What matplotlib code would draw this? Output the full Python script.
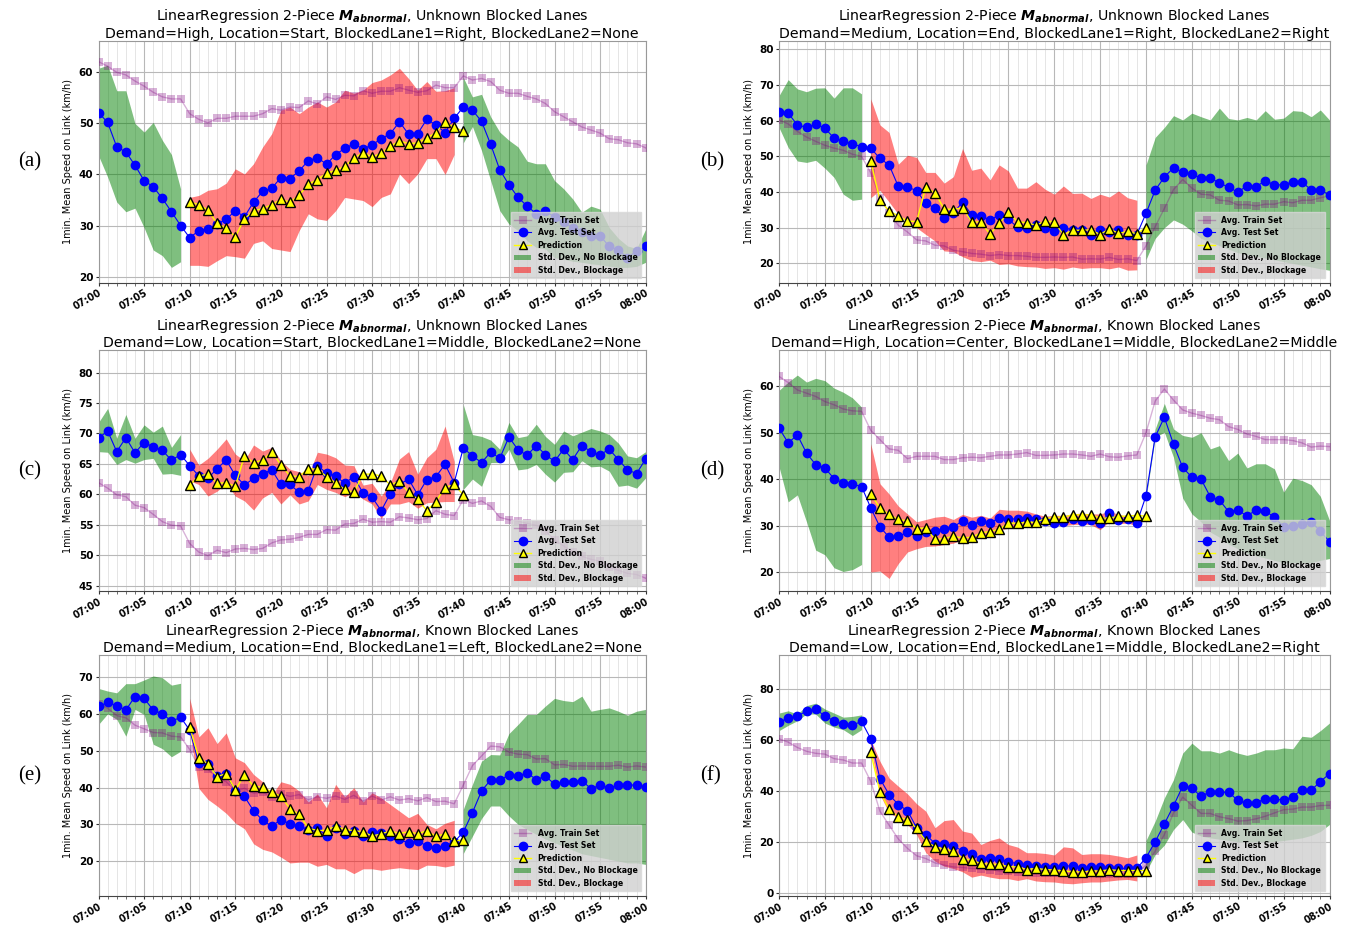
import matplotlib
matplotlib.use("Agg")
import matplotlib.pyplot as plt
from matplotlib.ticker import MultipleLocator, FixedLocator
from matplotlib.lines import Line2D
from matplotlib.patches import Patch
import numpy as np

minutes = list(range(61))
tick_minutes = list(range(0, 61, 5))
tick_labels = ['07:00', '07:05', '07:10', '07:15', '07:20', '07:25', '07:30',
               '07:35', '07:40', '07:45', '07:50', '07:55', '08:00']

# ---------------- panel (a) ----------------
a_train = [62.1,61.2,60.0,59.5,58.3,57.3,56.1,55.2,54.8,54.8,
           51.9,50.8,50.1,51.0,51.0,51.4,51.4,51.4,51.9,52.9,
           52.6,53.2,53.1,54.4,53.8,55.2,54.7,55.5,55.4,56.4,
           55.9,56.3,56.3,57.0,56.5,56.1,56.4,57.5,57.0,57.0,
           59.3,58.5,58.8,58.2,56.5,55.9,55.9,55.3,54.8,53.9,
           52.3,51.3,50.3,49.3,48.7,48.1,47.0,46.8,46.2,46.0,45.2]
a_test = [52.1,50.2,45.4,44.4,41.8,38.8,37.6,35.3,32.7,30.0,
          27.6,29.0,29.4,30.3,31.2,32.9,31.7,34.6,36.7,37.3,
          39.4,39.2,40.7,42.7,43.3,42.0,43.9,45.1,46.0,45.0,
          45.8,47.0,48.0,50.3,47.9,48.0,50.8,49.7,48.2,51.0,
          53.2,52.6,50.4,45.9,40.9,38.0,35.5,33.8,32.3,32.9,
          31.6,30.6,29.6,28.7,28.0,28.0,25.9,25.2,23.7,25.0,25.9]
a_pred = [34.6,34.1,33.0,30.4,29.5,27.8,31.3,32.9,33.3,34.1,
          35.1,34.6,35.9,38.1,39.0,40.2,40.8,41.6,43.2,44.3,
          43.4,44.2,45.5,46.6,46.0,46.2,47.1,48.2,50.3,49.2,48.5]
a_hi = [60.8,61.4,56.4,56.4,50.0,48.3,50.2,46.7,43.9,37.2,
        35.5,35.9,36.9,37.2,38.3,41.1,40.1,42.1,45.4,48.0,
        52.6,53.2,51.9,53.2,54.2,53.2,54.2,56.5,55.9,56.5,
        58.0,58.5,59.5,60.8,58.8,56.5,58.2,56.3,56.4,57.0,
        59.0,55.2,55.7,51.3,48.3,46.7,45.4,42.6,42.1,42.1,
        38.8,37.2,35.2,32.6,33.8,33.2,29.6,27.5,26.0,25.5,29.3]
a_lo = [43.7,39.5,34.6,32.7,33.4,29.6,25.2,24.1,21.8,22.9,
        22.2,22.2,22.0,23.1,24.1,23.9,23.6,26.5,27.0,25.5,
        25.2,24.9,29.0,32.3,31.3,31.0,32.9,35.5,35.2,34.9,
        33.7,35.5,36.2,40.1,38.2,40.1,43.1,43.1,40.0,43.9,
        46.2,49.4,44.7,38.8,32.9,30.3,29.0,27.0,25.7,25.4,
        23.7,23.4,23.0,22.8,22.5,22.3,22.0,21.8,21.8,22.0,22.8]

# ---------------- panel (b) ----------------
b_train = [60.2,59.1,57.0,55.4,54.2,53.1,52.3,51.7,50.6,50.0,
           45.4,38.4,34.2,30.7,28.8,26.6,26.3,25.1,24.9,23.7,
           23.3,22.8,22.6,22.2,22.5,22.2,22.2,22.0,21.7,21.7,
           21.8,21.7,21.8,21.2,21.3,21.2,21.7,21.1,21.3,20.8,
           24.9,30.3,35.4,40.7,43.5,41.1,39.4,39.2,37.7,37.5,
           36.4,36.5,36.1,36.6,36.6,37.3,37.0,37.7,37.7,38.4,38.9]
b_test = [62.3,62.1,58.8,58.1,59.0,57.9,55.1,54.2,53.5,52.7,
          52.3,49.4,47.6,41.6,41.5,40.3,36.9,35.5,32.6,34.0,
          37.2,33.6,33.3,32.2,33.6,32.4,30.1,29.8,30.7,30.0,
          29.1,30.0,29.4,29.3,28.1,29.4,28.7,29.4,28.1,28.1,
          34.0,40.5,44.2,46.8,45.6,45.0,43.9,43.9,42.6,41.3,
          40.0,41.7,41.5,43.2,42.0,42.0,42.9,42.8,40.6,40.6,39.1]
b_pred = [48.7,37.7,34.7,33.3,31.9,31.7,41.4,39.7,35.3,35.1,
          35.6,31.6,31.6,28.2,31.2,34.3,31.7,31.4,30.7,31.8,
          31.7,28.0,29.3,29.3,29.4,28.1,29.7,28.4,29.0,28.3,30.0]
b_hi = [67.0,71.5,68.9,68.1,69.1,69.2,66.3,69.2,69.2,67.5,
        66.1,58.8,56.7,47.8,50.3,49.7,45.5,45.5,42.5,44.3,
        52.2,46.1,46.7,43.4,47.6,45.9,41.1,41.1,42.9,40.8,
        39.4,41.7,39.6,39.7,38.2,39.4,38.6,40.3,38.4,37.7,
        47.6,55.3,58.1,61.4,60.2,62.1,61.1,60.2,63.5,60.6,
        60.2,60.9,60.2,62.8,60.4,60.7,62.8,62.6,61.1,63.0,60.2]
b_lo = [58.1,52.5,48.7,48.3,48.9,46.7,44.1,39.4,37.7,38.0,
        38.4,40.5,37.2,33.8,31.9,30.0,28.1,26.3,23.5,23.3,
        21.9,20.8,20.5,20.9,19.7,19.9,19.3,19.1,19.0,18.6,
        18.8,18.4,19.0,18.6,18.8,18.8,18.5,19.0,18.1,18.2,
        21.1,27.0,30.0,32.2,31.0,29.1,27.0,26.0,25.0,24.0,
        23.0,22.5,22.0,21.5,21.0,20.5,20.0,19.5,19.0,18.5,18.1]

# ---------------- panel (c) ----------------
c_train = [61.9,61.0,59.9,59.6,58.2,57.8,56.7,55.5,54.9,54.8,
           51.9,50.5,49.9,50.8,50.4,51.0,51.1,50.9,51.1,52.0,
           52.5,52.6,52.9,53.4,53.4,54.2,54.1,55.1,55.2,55.9,
           55.4,55.5,55.4,56.3,56.1,55.8,56.0,57.3,56.7,56.5,
           59.1,58.5,58.9,58.0,56.2,55.8,55.6,55.2,54.9,54.0,
           52.5,51.5,50.5,49.8,49.3,49.0,48.0,47.5,47.0,46.8,46.2]
c_test = [69.2,70.4,67.0,69.3,66.8,68.5,67.8,67.2,65.6,66.5,
          64.7,63.0,62.6,64.2,65.6,63.1,61.5,62.6,63.4,64.0,
          61.6,61.6,60.3,60.6,64.7,63.5,63.0,61.8,62.9,60.2,
          59.5,57.3,60.1,61.6,62.5,59.9,62.4,62.9,64.9,61.9,
          67.6,66.3,65.2,66.9,65.9,69.4,67.3,66.4,68.0,66.5,
          65.4,67.4,65.7,68.0,67.0,66.5,67.4,65.7,64.0,63.4,65.8]
c_pred = [61.5,63.0,63.3,61.8,61.9,61.3,66.3,65.2,65.6,67.0,
          64.8,63.0,62.9,64.2,64.1,62.9,61.8,60.8,60.3,63.3,
          63.3,63.0,61.5,62.2,60.3,59.2,57.3,58.8,61.1,61.6,59.9]
c_hi = [71.8,74.1,69.2,73.1,69.2,71.4,70.2,71.2,67.7,69.8,
        67.4,64.8,65.9,67.4,69.1,66.6,65.5,68.1,67.1,67.7,
        65.5,64.1,63.7,63.1,66.9,66.6,66.0,64.8,64.7,61.5,
        61.8,59.7,61.9,65.8,67.0,63.3,66.0,67.4,71.2,65.4,
        74.7,69.8,69.5,68.9,67.4,71.8,69.3,69.6,71.5,69.5,
        68.2,70.4,69.6,70.2,70.8,70.4,69.8,68.4,66.3,66.0,67.0]
c_lo = [67.0,66.9,64.9,65.7,65.1,65.7,65.9,63.3,63.4,63.1,
        62.2,61.6,59.7,60.5,61.8,59.7,58.9,57.4,59.4,60.3,
        58.4,59.9,58.4,58.9,61.6,60.8,60.3,59.6,60.3,59.2,
        58.4,56.0,58.4,58.4,58.8,57.7,58.6,58.7,58.8,58.8,
        60.8,62.5,61.3,65.2,65.2,67.4,64.0,64.2,64.9,63.3,
        62.0,63.6,63.7,65.5,64.5,64.6,63.8,61.3,61.5,61.0,62.7]

# ---------------- panel (d) ----------------
d_train = [62.1,60.8,59.2,58.5,57.8,56.7,56.0,55.1,54.7,54.6,
           50.5,48.5,46.5,46.2,44.4,44.9,44.9,44.9,44.2,44.2,
           44.6,44.7,44.6,44.9,45.2,45.2,45.4,45.7,45.1,45.1,
           45.2,45.4,45.4,45.2,44.9,45.4,44.8,44.7,45.0,45.2,
           50.0,56.8,59.4,57.0,54.9,54.2,53.7,53.1,52.8,51.3,
           50.7,49.7,49.2,48.5,48.5,48.5,48.3,47.8,46.9,47.1,47.0]
d_test = [51.0,47.8,49.5,45.6,43.1,42.4,40.1,39.2,38.9,38.4,
          33.8,29.7,27.5,27.7,28.5,27.8,28.5,28.8,29.3,29.7,
          31.0,30.2,30.9,30.5,31.7,31.3,31.5,31.7,31.5,30.9,
          30.5,30.8,31.3,30.9,31.1,30.5,32.7,31.1,31.3,30.5,
          36.4,49.1,53.3,47.5,42.5,40.4,40.0,36.2,35.5,33.0,
          33.3,32.1,33.3,33.1,31.8,29.7,29.8,30.3,30.8,28.8,26.5]
d_pred = [36.8,33.8,32.4,31.3,31.0,29.3,29.5,27.0,27.2,27.7,
          27.3,27.5,28.4,28.7,29.2,30.5,30.5,30.7,30.7,31.5,
          31.8,31.8,32.3,32.3,32.3,31.6,31.6,32.0,32.0,32.2,32.0]
d_hi = [59.1,60.9,62.4,60.9,61.7,61.2,59.6,58.7,57.5,55.5,
        47.6,39.0,36.8,34.2,32.5,30.8,31.3,31.8,32.0,31.3,
        32.4,31.8,32.2,31.6,33.5,33.3,33.3,33.1,32.5,32.0,
        32.2,32.2,32.5,32.7,32.5,32.5,33.1,32.4,32.0,31.3,
        37.0,50.8,56.3,50.8,49.4,49.0,50.0,46.5,47.2,44.0,
        45.6,42.4,43.3,43.3,42.2,37.2,40.2,39.7,38.8,36.3,31.1]
d_lo = [42.7,35.1,36.6,30.8,24.7,23.7,20.9,20.1,20.5,21.6,
        20.0,20.2,18.6,21.8,24.3,25.0,25.5,25.6,25.9,26.2,
        27.0,27.1,27.5,27.9,29.0,29.4,29.7,30.0,30.2,30.3,
        30.2,30.0,30.2,30.3,30.2,29.1,30.9,30.4,30.5,30.0,
        35.8,49.0,50.1,44.7,35.9,32.5,30.8,28.6,27.5,26.0,
        25.0,24.0,23.5,23.0,22.5,22.0,22.0,22.0,22.0,22.5,22.9]

# ---------------- panel (e) ----------------
e_train = [62.8,61.6,59.6,59.0,57.0,56.0,55.0,54.9,54.0,53.8,
           50.4,45.6,45.0,42.7,41.6,39.2,39.8,38.5,38.7,37.5,
           38.3,37.6,38.1,36.7,37.5,37.1,37.7,36.8,37.9,36.3,
           37.7,36.6,37.5,36.6,37.0,36.4,37.3,36.2,36.3,35.6,
           40.7,46.0,48.6,51.3,51.1,49.7,49.1,49.0,47.8,47.9,
           46.2,46.3,45.8,45.9,45.8,45.8,45.8,46.1,45.6,45.9,45.6]
e_test = [62.1,63.2,62.3,61.1,64.8,64.3,61.1,60.1,58.1,59.1,
          55.7,46.6,46.4,43.2,43.6,39.2,37.6,33.7,31.1,29.5,
          31.3,30.1,29.5,28.6,29.0,26.8,28.9,27.4,28.2,26.7,
          28.0,27.6,26.7,25.9,24.9,25.4,24.2,23.7,24.2,25.2,
          27.9,33.2,39.1,42.1,42.0,43.5,43.2,44.0,42.2,43.1,
          41.0,41.4,41.4,41.9,39.7,40.7,39.9,40.7,40.7,40.7,40.1]
e_pred = [56.5,48.1,46.5,43.0,43.8,39.4,43.4,40.4,40.1,38.8,
          37.6,34.3,32.7,29.0,28.3,28.4,29.5,28.6,28.3,28.0,
          26.8,27.4,28.2,27.5,28.0,27.4,28.3,26.7,27.4,25.4,25.8]
e_hi = [67.0,66.3,65.8,68.3,68.3,69.3,70.4,69.9,67.9,68.4,
        64.3,53.8,56.3,52.0,54.9,48.1,46.8,43.6,41.6,38.0,
        41.6,40.9,39.1,36.1,38.3,34.5,40.9,37.5,40.0,36.1,
        38.6,37.2,35.4,33.6,31.8,33.0,30.0,28.8,30.3,31.1,
        34.1,40.9,47.2,49.0,48.9,54.7,57.2,59.9,59.9,62.2,
        64.3,63.7,63.4,64.9,60.8,61.3,61.7,60.8,59.7,60.8,61.3]
e_lo = [57.2,60.1,58.6,54.0,61.3,59.9,51.8,50.6,48.4,49.9,
        55.4,39.8,36.8,35.0,33.0,30.4,28.8,24.7,23.2,22.5,
        21.1,19.5,19.7,19.7,18.6,19.1,17.9,17.9,16.6,17.9,
        17.9,17.5,17.9,18.2,17.9,17.7,18.9,18.8,18.4,18.9,
        22.1,26.8,31.6,35.0,35.0,32.3,30.0,28.6,27.3,26.0,
        25.0,24.0,23.0,22.0,21.5,21.0,20.5,20.0,19.5,19.5,19.1]

# ---------------- panel (f) ----------------
f_train = [60.4,59.1,57.0,55.5,54.7,54.4,52.6,52.1,50.9,50.9,
           43.7,32.0,26.5,21.1,17.4,14.5,13.4,11.7,10.8,10.1,
           9.9,9.5,9.3,9.1,8.5,8.5,8.2,8.0,7.7,7.7,
           7.7,7.6,7.6,7.4,7.6,7.4,7.4,7.4,7.4,7.7,
           10.8,16.3,22.8,31.3,37.5,34.3,31.1,31.1,29.8,29.1,
           28.1,28.3,29.0,30.0,31.3,32.6,32.8,33.6,33.6,34.2,34.3]
f_test = [67.0,68.5,69.2,71.4,72.1,69.3,67.5,66.2,65.8,67.2,
          60.4,44.8,38.5,34.6,32.2,25.5,22.8,19.3,19.2,18.5,
          16.3,15.0,13.3,13.7,13.4,12.1,11.4,10.8,10.4,10.1,
          10.1,10.6,10.4,9.8,9.9,10.1,9.8,9.5,9.5,9.5,
          13.7,20.0,27.0,34.1,41.8,40.9,37.9,39.6,39.4,39.4,
          36.3,35.1,35.4,36.8,36.8,36.3,37.7,40.5,40.2,43.6,46.7]
f_pred = [55.1,39.6,32.8,29.8,28.5,25.3,20.2,18.0,17.1,16.3,
          13.4,12.7,11.5,11.1,11.1,10.2,10.1,9.1,9.5,9.1,
          8.9,8.5,8.2,8.1,8.5,8.5,9.0,8.7,8.7,8.7,8.7]
f_hi = [70.5,71.4,70.1,73.4,74.4,72.1,70.5,68.9,69.2,69.8,
        60.1,51.6,45.0,41.8,38.8,34.9,32.0,25.5,28.3,28.7,
        24.2,23.4,18.9,20.5,21.5,18.9,17.9,15.7,15.7,15.4,
        14.8,18.0,17.6,15.0,15.3,15.3,15.0,14.4,13.7,14.8,
        20.5,28.1,37.2,44.4,54.8,58.7,55.7,55.7,54.8,56.1,
        54.8,53.9,54.8,56.1,56.1,56.8,56.5,61.4,61.0,63.6,66.6]
f_lo = [63.6,65.7,67.5,70.2,70.1,66.6,65.0,64.0,61.7,64.0,
        56.8,38.5,31.3,29.4,26.8,22.8,15.7,12.4,10.4,9.5,
        8.2,6.1,6.9,6.1,5.5,5.5,4.8,5.5,4.6,4.3,
        4.2,3.7,3.5,3.9,4.2,4.2,4.6,5.0,5.2,4.6,
        8.2,15.0,18.7,24.8,28.7,23.8,22.2,21.5,21.0,20.5,
        20.0,20.0,20.0,20.0,20.0,20.5,21.0,21.5,22.5,24.0,26.8]

panel_letters = ['(a)', '(b)', '(c)', '(d)', '(e)', '(f)']
known_labels = ['Unknown', 'Unknown', 'Unknown', 'Known', 'Known', 'Known']
subtitles = ['Demand=High, Location=Start, BlockedLane1=Right, BlockedLane2=None',
             'Demand=Medium, Location=End, BlockedLane1=Right, BlockedLane2=Right',
             'Demand=Low, Location=Start, BlockedLane1=Middle, BlockedLane2=None',
             'Demand=High, Location=Center, BlockedLane1=Middle, BlockedLane2=Middle',
             'Demand=Medium, Location=End, BlockedLane1=Left, BlockedLane2=None',
             'Demand=Low, Location=End, BlockedLane1=Middle, BlockedLane2=Right']
y_limits = [(18.8, 66.2), (14.6, 82.4), (44.1, 83.7), (15.9, 67.8), (10.5, 76.1), (-1.3, 93.3)]
y_steps = [10, 10, 5, 10, 10, 20]

trains = [a_train, b_train, c_train, d_train, e_train, f_train]
tests = [a_test, b_test, c_test, d_test, e_test, f_test]
preds = [a_pred, b_pred, c_pred, d_pred, e_pred, f_pred]
his = [a_hi, b_hi, c_hi, d_hi, e_hi, f_hi]
los = [a_lo, b_lo, c_lo, d_lo, e_lo, f_lo]

W, H = 1348, 926
fig = plt.figure(figsize=(W / 100, H / 100), dpi=100)

col_px = [(98.5, 645.7), (779.0, 1329.5)]
row_px = [(40.7, 282.7), (350.0, 591.0), (655.0, 896.0)]
label_x_px = [18, 700]

x = np.array(minutes)
pred_x = x[10:41]

for i in range(6):
    r, c = divmod(i, 2)
    l_px, r_px = col_px[c]
    t_px, b_px = row_px[r]
    ax = fig.add_axes([l_px / W, 1 - b_px / H, (r_px - l_px) / W, (b_px - t_px) / H])

    hi = np.array(his[i])
    lo = np.array(los[i])
    ax.fill_between(x[:10], lo[:10], hi[:10], color='green', alpha=0.5, lw=0, zorder=1)
    ax.fill_between(x[40:], lo[40:], hi[40:], color='green', alpha=0.5, lw=0, zorder=1)
    ax.fill_between(x[10:40], lo[10:40], hi[10:40], color='red', alpha=0.5, lw=0, zorder=1)

    ax.plot(x, trains[i], color='purple', alpha=0.3, marker='s', ms=6, lw=1, mew=0, zorder=3)
    ax.plot(x, tests[i], color='blue', marker='o', ms=6, lw=0.8, zorder=4)
    ax.plot(pred_x, preds[i], color='yellow', lw=1, marker='^', ms=6.5,
            mfc='yellow', mec='black', mew=1.0, zorder=5)

    ax.set_xlim(0, 60)
    ax.set_ylim(*y_limits[i])
    ax.xaxis.set_major_locator(FixedLocator(tick_minutes))
    ax.xaxis.set_minor_locator(MultipleLocator(1))
    ax.set_xticks(tick_minutes)
    ax.set_xticklabels(tick_labels, rotation=30, ha='right', rotation_mode='anchor',
                       fontsize=6.9, fontweight='bold')
    ax.yaxis.set_major_locator(MultipleLocator(y_steps[i]))
    for lab in ax.get_yticklabels():
        lab.set_fontweight('bold')
        lab.set_fontsize(7.5)
    ax.tick_params(axis='both', which='major', length=2.5, width=0.8, pad=1.2, color='#333333')
    ax.tick_params(axis='x', which='minor', length=1.8, width=0.6, color='#555555')
    ax.grid(which='major', color='#b8b8b8', lw=0.8, zorder=0)
    ax.grid(which='minor', axis='x', color='#e0e0e0', lw=0.6, zorder=0)
    ax.set_axisbelow(True)
    for s in ax.spines.values():
        s.set_color('#999999')
        s.set_linewidth(0.8)
    ax.spines['bottom'].set_color('#444444')

    ax.set_ylabel('1min. Mean Speed on Link (km/h)', fontsize=7, labelpad=4)
    title = ('LinearRegression 2-Piece $\\mathbfit{M_{abnormal}}$, '
             + known_labels[i] + ' Blocked Lanes\n' + subtitles[i])
    ax.set_title(title, fontsize=10.2, pad=2, linespacing=1.12)

    handles = [
        Line2D([], [], color='purple', alpha=0.3, marker='s', ms=6, lw=1, mew=0),
        Line2D([], [], color='blue', marker='o', ms=6, lw=0.8),
        Line2D([], [], color='yellow', marker='^', ms=6, lw=1, mfc='yellow', mec='black', mew=1.0),
        Patch(facecolor='green', alpha=0.5, lw=0),
        Patch(facecolor='red', alpha=0.5, lw=0),
    ]
    labels = ['Avg. Train Set', 'Avg. Test Set', 'Prediction',
              'Std. Dev., No Blockage', 'Std. Dev., Blockage']
    leg = ax.legend(handles, labels, loc='lower right', prop={'size': 5.6, 'weight': 'bold'},
                    frameon=True, facecolor='#d0d0d0', edgecolor='#d8d8d8', framealpha=0.8,
                    borderaxespad=0.6, handlelength=2.2, handletextpad=0.8,
                    labelspacing=0.45, borderpad=0.45, fancybox=False)
    leg.set_zorder(10)

    cy = (t_px + b_px) / 2
    fig.text(label_x_px[c] / W, 1 - cy / H, panel_letters[i], fontsize=15,
             family='Liberation Serif', va='center', ha='left')

fig.savefig('out.png', dpi=100)
